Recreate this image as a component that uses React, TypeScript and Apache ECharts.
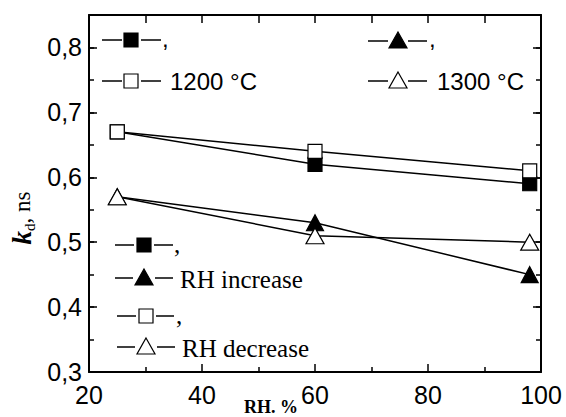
import React, { useEffect, useRef } from "react";
import * as echarts from "echarts";

const rhValues = [25, 60, 98];
const k1200Increase = [0.67, 0.62, 0.59];
const k1200Decrease = [0.67, 0.64, 0.61];
const k1300Increase = [0.57, 0.53, 0.45];
const k1300Decrease = [0.57, 0.51, 0.5];

const SANS = "Liberation Sans, Arial, sans-serif";
const SERIF = "Liberation Serif, Times New Roman, serif";

const pairs = (ys: number[]) => rhValues.map((x, i) => [x, ys[i]]);

function marker(kind: "sq" | "tri", filled: boolean, cx: number, cy: number): any {
  const style = { fill: filled ? "#000" : "#fff", stroke: "#000", lineWidth: 1.2 };
  if (kind === "sq") {
    return { type: "rect", shape: { x: cx - 7, y: cy - 7, width: 14, height: 14 }, style, z: 10 };
  }
  return {
    type: "polygon",
    shape: { points: [[cx, cy - 9], [cx + 9, cy + 7], [cx - 9, cy + 7]] },
    style,
    z: 10,
  };
}

function seg(x1: number, x2: number, y: number): any {
  return { type: "line", shape: { x1, y1: y, x2, y2: y }, style: { stroke: "#000", lineWidth: 1.5 }, z: 10 };
}

function txt(text: string, x: number, y: number, font: string, size: number): any {
  return {
    type: "text",
    x,
    y,
    style: { text, fill: "#000", font: `${size}px ${font}`, align: "left", verticalAlign: "middle" },
    z: 10,
  };
}

function entry(kind: "sq" | "tri", filled: boolean, cx: number, cy: number, l: [number, number], r: [number, number]) {
  return [seg(l[0], l[1], cy), marker(kind, filled, cx, cy), seg(r[0], r[1], cy)];
}

export default function App() {
  const ref = useRef<HTMLDivElement>(null);
  useEffect(() => {
    if (!ref.current) return;
    const chart = echarts.init(ref.current, undefined, { renderer: "svg" });
    const tickLabel = { color: "#000", fontFamily: SANS, fontSize: 25 };
    const yFmt = (v: number) => {
      if (Math.abs(v * 10 - Math.round(v * 10)) > 1e-6) return "";
      return v.toFixed(1).replace(".", ",");
    };
    const axisLine = { show: true, lineStyle: { color: "#000", width: 2 } };
    const majorTick = { show: true, inside: true, length: 8, lineStyle: { color: "#000", width: 1.5 } };
    const minorTickAxis = {
      type: "value",
      min: 0.3,
      max: 0.85,
      interval: 0.05,
      axisLine: { show: false },
      axisTick: { show: true, inside: true, length: 5, lineStyle: { color: "#000", width: 1.5 } },
      axisLabel: { show: false },
      splitLine: { show: false },
    };
    const lineSeries = (name: string, data: number[], symbol: string, size: any, filled: boolean, z: number) => ({
      name,
      type: "line",
      data: pairs(data),
      symbol,
      symbolSize: size,
      showSymbol: true,
      lineStyle: { color: "#000", width: 1.5 },
      itemStyle: { color: filled ? "#000" : "#fff", borderColor: "#000", borderWidth: 1.2 },
      z,
    });

    chart.setOption({
      animation: false,
      backgroundColor: "#fff",
      grid: { left: 89, right: 25, top: 15, bottom: 45, containLabel: false },
      xAxis: [
        {
          type: "value",
          position: "bottom",
          min: 20,
          max: 100,
          interval: 20,
          axisLine,
          axisTick: majorTick,
          minorTick: { show: true, splitNumber: 2, length: 5, lineStyle: { color: "#000", width: 1.5 } },
          axisLabel: { ...tickLabel, margin: 10, formatter: (v: number) => String(v) },
          splitLine: { show: false },
          minorSplitLine: { show: false },
        },
        {
          type: "value",
          position: "top",
          min: 20,
          max: 100,
          interval: 20,
          axisLine,
          axisTick: majorTick,
          minorTick: { show: true, splitNumber: 2, length: 8, lineStyle: { color: "#000", width: 1.5 } },
          axisLabel: { show: false },
          splitLine: { show: false },
        },
      ],
      yAxis: [
        {
          type: "value",
          position: "left",
          min: 0.3,
          max: 0.85,
          interval: 0.1,
          axisLine,
          axisTick: majorTick,
          axisLabel: { ...tickLabel, margin: 7, formatter: yFmt, showMaxLabel: false },
          splitLine: { show: false },
        },
        {
          type: "value",
          position: "right",
          min: 0.3,
          max: 0.85,
          interval: 0.1,
          axisLine,
          axisTick: majorTick,
          axisLabel: { show: false },
          splitLine: { show: false },
        },
        { ...minorTickAxis, position: "left" },
        { ...minorTickAxis, position: "right" },
      ],
      series: [
        lineSeries("1200 °C, RH increase", k1200Increase, "rect", 14, true, 2),
        lineSeries("1300 °C, RH increase", k1300Increase, "triangle", [17, 16], true, 3),
        lineSeries("1200 °C, RH decrease", k1200Decrease, "rect", 14, false, 4),
        lineSeries("1300 °C, RH decrease", k1300Decrease, "triangle", [18, 16], false, 5),
      ],
      graphic: [
        // top-left legend
        ...entry("sq", true, 131, 40, [102, 122], [141, 161]),
        txt(",", 162, 38, SANS, 24),
        ...entry("sq", false, 131, 81, [102, 122], [141, 161]),
        txt("1200 °C", 170, 81, SANS, 24),
        // top-right legend
        ...entry("tri", true, 398, 41, [368, 388], [408, 427]),
        txt(",", 429, 38, SANS, 24),
        ...entry("tri", false, 398, 81, [368, 388], [408, 427]),
        txt("1300 °C", 437, 81, SANS, 24),
        // bottom-left legend
        ...entry("sq", true, 144, 245, [115, 134], [154, 173]),
        txt(",", 174, 244, SERIF, 25),
        ...entry("tri", true, 144, 278, [115, 133], [155, 173]),
        txt("RH increase", 180, 279, SERIF, 25),
        ...entry("sq", false, 146, 316, [117, 136], [156, 174]),
        txt(",", 176, 315, SERIF, 25),
        ...entry("tri", false, 146, 347, [117, 135], [157, 175]),
        txt("RH decrease", 182, 348, SERIF, 25),
        // axis names
        {
          type: "text",
          x: 271,
          y: 407,
          style: {
            text: "RH. %",
            fill: "#000",
            font: `bold 18px ${SERIF}`,
            align: "center",
            verticalAlign: "middle",
          },
        },
        {
          type: "text",
          x: 22,
          y: 218,
          rotation: Math.PI / 2,
          style: {
            text: "{k|k}{d|d}{n|, ns}",
            align: "center",
            verticalAlign: "middle",
            rich: {
              k: { fontFamily: SERIF, fontSize: 27, fontWeight: "bold", fontStyle: "italic", fill: "#000", lineHeight: 30 },
              d: { fontFamily: SERIF, fontSize: 15, fill: "#000", verticalAlign: "bottom", lineHeight: 30, padding: [10, 0, 0, 0] },
              n: { fontFamily: SERIF, fontSize: 23, fill: "#000", lineHeight: 30 },
            },
          },
        },
      ],
    });
    return () => chart.dispose();
  }, []);
  return <div ref={ref} style={{ position: "fixed", left: 0, top: 0, width: 566, height: 417 }} />;
}
